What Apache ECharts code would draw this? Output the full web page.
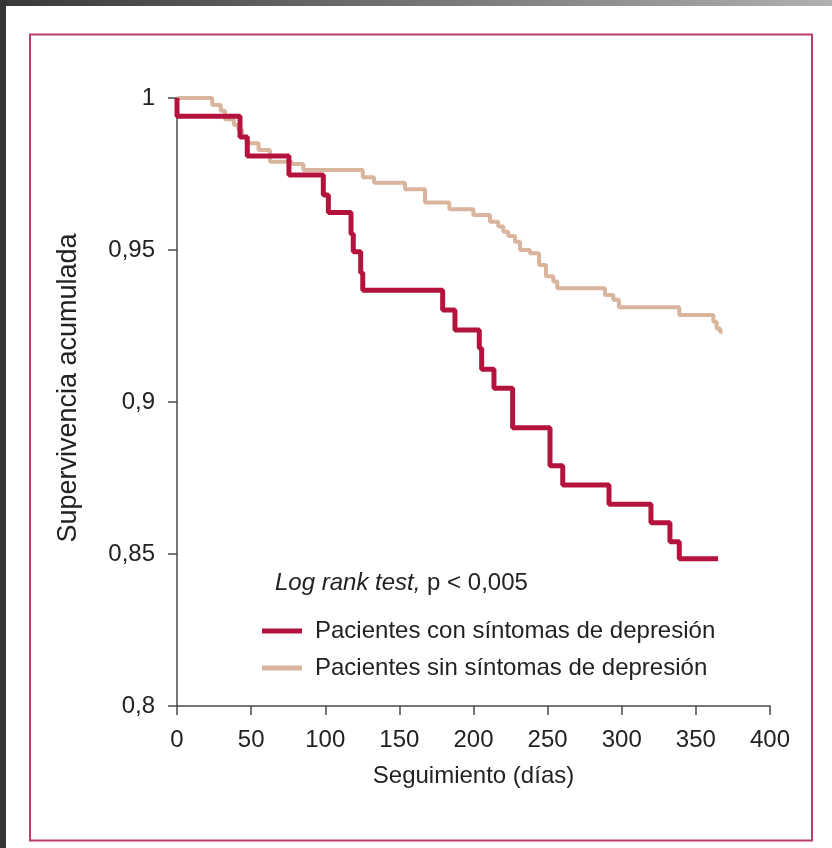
<!DOCTYPE html>
<html>
<head>
<meta charset="utf-8">
<script src="https://cdn.jsdelivr.net/npm/echarts@6/dist/echarts.min.js"></script>
<style>
html,body{margin:0;padding:0;background:#fff;}
#c{width:832px;height:848px;}
</style>
</head>
<body>
<div id="c"></div>
<script>
// ---- data ----
const seriesNames = ['Pacientes con síntomas de depresión', 'Pacientes sin síntomas de depresión'];
const redTimes = [0, 0, 42.5, 47.4, 75.5, 98.7, 102.1, 117.4, 118.9, 123.9, 125.3, 179.2, 187.5, 203.9, 205.5, 213.8, 226.4, 251.6, 260.2, 291.4, 319.7, 332.5, 338.8, 365];
const redSurv  = [1, 0.994, 0.9872, 0.9809, 0.9747, 0.9681, 0.9623, 0.9553, 0.9494, 0.9425, 0.9368, 0.9303, 0.9237, 0.9177, 0.9108, 0.9045, 0.8915, 0.879, 0.8727, 0.8664, 0.8603, 0.854, 0.8484, 0.8484];
const tanTimes = [0, 23.8, 29.5, 32.4, 38.4, 41.4, 44, 47, 55, 62.7, 77.4, 85.2, 125.3, 132.9, 153.8, 167.3, 183.7, 199.9, 211.1, 216.7, 220.1, 223.5, 228, 231.4, 238.1, 244.2, 248.9, 253.8, 256.5, 288.7, 294.3, 298.1, 338.8, 361.8, 364, 366.3, 368];
const tanSurv  = [1, 0.9977, 0.9958, 0.993, 0.9911, 0.9895, 0.9872, 0.9851, 0.9829, 0.979, 0.9783, 0.9763, 0.9739, 0.9721, 0.97, 0.9656, 0.9634, 0.9615, 0.9593, 0.9577, 0.956, 0.9546, 0.9527, 0.95, 0.9489, 0.9451, 0.9414, 0.9396, 0.9374, 0.9352, 0.9336, 0.9312, 0.9286, 0.9264, 0.9242, 0.9231, 0.9231];
const xTicks = [0, 50, 100, 150, 200, 250, 300, 350, 400];
const yTickLabels = ['0,8', '0,85', '0,9', '0,95', '1'];
const annotation = 'Log rank test,';
const annotationRest = ' p < 0,005';
const xTitle = 'Seguimiento (días)';
const yTitle = 'Supervivencia acumulada';

// ---- chart ----
const FONT = '"Liberation Sans", Arial, sans-serif';
const TXT = '#222';
const AX = '#4a4a4a';
const RED = '#b3133c';
const TAN = '#d8b59c';

const zip = (a, b) => a.map((t, i) => [t, b[i]]);

const chart = echarts.init(document.getElementById('c'), null, {renderer: 'canvas'});
chart.setOption({
  animation: false,
  backgroundColor: '#fff',
  graphic: [
    {type: 'rect', shape: {x: 0, y: 0, width: 832, height: 6}, style: {fill: new echarts.graphic.LinearGradient(0, 0, 1, 0, [{offset: 0, color: '#383838'}, {offset: 1, color: '#b0b0b0'}])}, z: -1},
    {type: 'rect', shape: {x: 0, y: 0, width: 6, height: 848}, style: {fill: '#353535'}, z: -1},
    {type: 'rect', shape: {x: 30, y: 34.5, width: 782, height: 806}, style: {fill: 'none', stroke: '#b93d64', lineWidth: 2}, z: -1}
  ],
  title: {
    text: '{i|' + annotation + '}' + annotationRest,
    left: 275,
    top: 571,
    padding: 0,
    textStyle: {
      fontFamily: FONT, fontSize: 24, fontWeight: 'normal', color: TXT,
      rich: {i: {fontFamily: FONT, fontSize: 24, fontStyle: 'italic', color: TXT}}
    }
  },
  legend: {
    data: [seriesNames[0], seriesNames[1]],
    orient: 'vertical',
    left: 262,
    top: 617,
    padding: 0,
    icon: 'rect',
    itemWidth: 40,
    itemHeight: 5,
    itemGap: 9,
    textStyle: {fontFamily: FONT, fontSize: 24, color: TXT, lineHeight: 28, padding: [0, 0, 0, 8]}
  },
  grid: {left: 177, right: 62, top: 98, bottom: 142, containLabel: false},
  xAxis: {
    type: 'value', min: 0, max: 400, interval: 50,
    name: xTitle, nameLocation: 'middle', nameGap: 58,
    nameTextStyle: {fontFamily: FONT, fontSize: 24, color: TXT},
    axisLine: {show: true, lineStyle: {color: AX, width: 1.5}},
    axisTick: {show: true, length: 9, lineStyle: {color: AX, width: 1.5}},
    axisLabel: {fontFamily: FONT, fontSize: 24, color: TXT, margin: 22,
      formatter: v => String(xTicks[Math.round(v / 50)])},
    splitLine: {show: false}
  },
  yAxis: {
    type: 'value', min: 0.8, max: 1, interval: 0.05,
    name: yTitle, nameLocation: 'middle', nameGap: 95, nameRotate: 90,
    nameTextStyle: {fontFamily: FONT, fontSize: 27, color: TXT, padding: [0, 0, 0, 28]},
    axisLine: {show: true, lineStyle: {color: AX, width: 1.5}},
    axisTick: {show: true, length: 9, lineStyle: {color: AX, width: 1.5}},
    axisLabel: {fontFamily: FONT, fontSize: 24, color: TXT, margin: 22,
      formatter: v => yTickLabels[Math.round((v - 0.8) / 0.05)]},
    splitLine: {show: false}
  },
  series: [
    {name: seriesNames[1], type: 'line', step: 'end', showSymbol: false, symbol: 'none',
      data: zip(tanTimes, tanSurv), lineStyle: {color: TAN, width: 4}, itemStyle: {color: TAN}, z: 2},
    {name: seriesNames[0], type: 'line', step: 'end', showSymbol: false, symbol: 'none',
      data: zip(redTimes, redSurv), lineStyle: {color: RED, width: 5}, itemStyle: {color: RED}, z: 3}
  ]
});
</script>
</body>
</html>
